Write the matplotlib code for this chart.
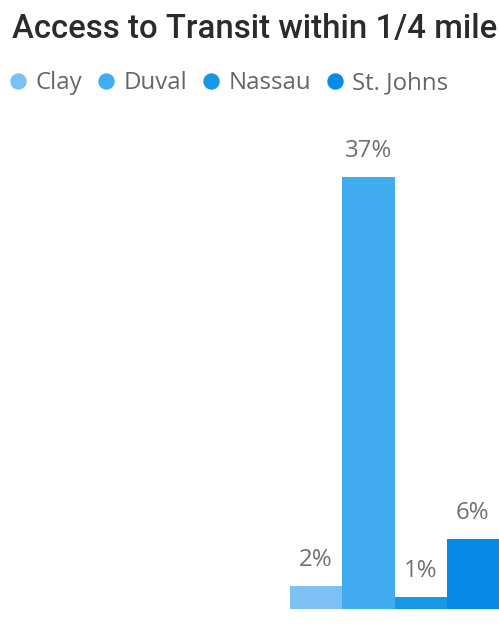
import matplotlib
matplotlib.use("Agg")
import matplotlib.pyplot as plt
from matplotlib.lines import Line2D

# Share of population with transit access, by county
counties = ["Clay", "Duval", "Nassau", "St. Johns"]
share_pct = [2, 37, 1, 6]
bar_colors = ["#7cc0f4", "#41adf0", "#1598e6", "#068ae8"]
title_text = "Access to Transit within 1/4 mile"

W, H, DPI = 499, 628, 100
fig = plt.figure(figsize=(W / DPI, H / DPI), dpi=DPI)
fig.patch.set_facecolor("white")


def px(v):
    """Convert pixels to points."""
    return v * 72 / DPI


# Column chart
ax = fig.add_axes([290 / W, 19 / H, 209 / W, 432 / H])
xpos = list(range(len(counties)))
bars = ax.bar(xpos, share_pct, width=1.0, align="edge", color=bar_colors)
ax.set_xlim(0, len(counties))
ax.set_ylim(0, max(share_pct))
ax.axis("off")

for rect, v in zip(bars, share_pct):
    ax.annotate(f"{v}%",
                (rect.get_x() + rect.get_width() / 2, rect.get_height()),
                xytext=(0, px(20)), textcoords="offset points",
                ha="center", va="baseline", fontsize=px(24),
                family="Open Sans", color="#707070", annotation_clip=False)

# Title, sized to span the header width
title = fig.text(12 / W, (H - 38) / H, title_text, ha="left", va="baseline",
                 fontsize=px(30), family="Roboto", fontweight="medium",
                 color="#2b2b2b")
renderer = fig.canvas.get_renderer()
w = title.get_window_extent(renderer).width
title.set_fontsize(title.get_fontsize() * 485 / w)

# Legend
handles = [Line2D([], [], linestyle="", marker="o", markersize=px(15),
                  markerfacecolor=c, markeredgecolor=c) for c in bar_colors]
leg = fig.legend(handles, counties, loc="center left",
                 bbox_to_anchor=(11 / W, (H - 83) / H), ncol=4, frameon=False,
                 borderpad=0, borderaxespad=0, handlelength=0.62,
                 handletextpad=0.4, columnspacing=0.7,
                 prop={"family": "Open Sans", "size": px(24)})
for t in leg.get_texts():
    t.set_color("#666666")

fig.savefig("out.png", dpi=DPI, facecolor="white")
